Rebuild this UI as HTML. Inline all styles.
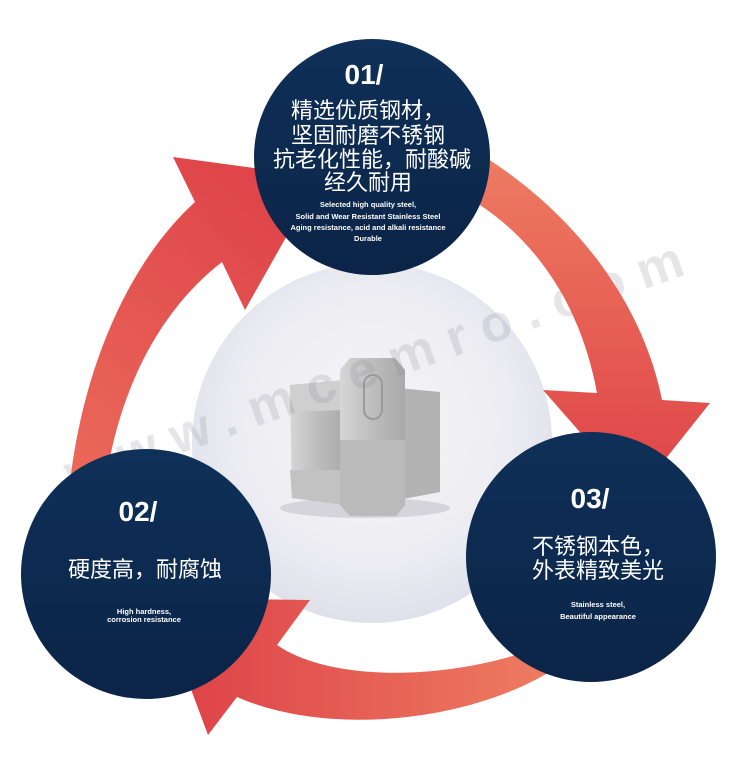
<!DOCTYPE html>
<html><head><meta charset="utf-8"><style>
html,body{margin:0;padding:0;background:#fff;}
svg{display:block;}
text{font-family:"Liberation Sans","Noto Sans CJK SC",sans-serif;fill:#fff;}
</style></head><body>
<svg width="750" height="758" viewBox="0 0 750 758" xmlns="http://www.w3.org/2000/svg">
<defs>
<radialGradient id="cg" cx="0.5" cy="0.45" r="0.55">
<stop offset="0" stop-color="#f6f6f8"/><stop offset="0.7" stop-color="#ececf2"/><stop offset="1" stop-color="#dfe0ea"/></radialGradient>
<linearGradient id="a1" x1="0" y1="1" x2="0.6" y2="0"><stop offset="0" stop-color="#ec6f5c"/><stop offset="1" stop-color="#df454a"/></linearGradient>
<linearGradient id="a2" x1="0" y1="0" x2="0" y2="1"><stop offset="0" stop-color="#ee7d62"/><stop offset="1" stop-color="#de4247"/></linearGradient>
<linearGradient id="a3" x1="1" y1="0" x2="0" y2="0"><stop offset="0" stop-color="#ee7e62"/><stop offset="1" stop-color="#dd3f47"/></linearGradient>
<linearGradient id="nv" x1="0" y1="0" x2="0" y2="1"><stop offset="0" stop-color="#0f3058"/><stop offset="1" stop-color="#0b2447"/></linearGradient>
<linearGradient id="mt" x1="0" y1="0" x2="1" y2="0"><stop offset="0" stop-color="#d6d6d6"/><stop offset="0.5" stop-color="#bdbdbd"/><stop offset="1" stop-color="#a9a9a9"/></linearGradient>
</defs>
<circle cx="372" cy="443" r="180" fill="url(#cg)"/>
<!-- product -->
<ellipse cx="365" cy="508" rx="85" ry="10" fill="#d4d4da"/>
<path d="M290,385 L345,380 L345,505 L292,498 Z" fill="url(#mt)"/>
<path d="M290,385 L345,380 L345,410 L290,412 Z" fill="#cfcfcf"/>
<path d="M290,470 L345,470 L345,505 L292,498 Z" fill="#c2c2c2"/>
<path d="M398,388 L440,392 L440,492 L398,500 Z" fill="#b3b3b3"/>
<path d="M340,370 L350,358 L395,358 L405,370 L405,505 L396,516 L350,516 L340,505 Z" fill="url(#mt)"/>
<path d="M340,440 L405,440 L405,505 L396,516 L350,516 L340,505 Z" fill="#bababa"/>
<rect x="364" y="375" width="18" height="44" rx="9" fill="none" stroke="#9a9a9a" stroke-width="2"/>
<!-- watermark -->
<text x="72" y="492" transform="rotate(-19.5 72 492)" style="fill:rgba(140,140,150,0.22);font-size:52px;font-weight:bold;letter-spacing:15px">www.mcemro.com</text>
<!-- arrows -->
<path d="M66,545 C68,400 120,270 195,202 L173,157 L320,177 L245,310 L222,262 C160,310 105,400 100,545 Z" fill="url(#a1)"/>
<path d="M470,148 C560,200 640,290 662,400 L710,403 L636,496 L543,390 L597,393 C580,300 530,230 458,192 Z" fill="url(#a2)"/>
<path d="M565,662 C480,722 330,738 237,697 L208,735 L157,598 L310,600 L277,645 C330,682 450,682 545,645 Z" fill="url(#a3)"/>
<!-- circles -->
<circle cx="372" cy="157" r="118" fill="url(#nv)"/>
<circle cx="146" cy="574" r="125" fill="url(#nv)"/>
<circle cx="591" cy="557" r="125" fill="url(#nv)"/>
<!-- top text -->
<text x="364" y="84" text-anchor="middle" style="font-size:28px;font-weight:bold">01/</text>
<g text-anchor="middle" style="font-size:22px">
<text x="368" y="118">精选优质钢材，</text>
<text x="368" y="143">坚固耐磨不锈钢</text>
<text x="372" y="167">抗老化性能，耐酸碱</text>
<text x="368" y="190">经久耐用</text>
</g>
<g text-anchor="middle" style="font-size:7.5px;font-weight:bold">
<text x="368" y="207">Selected high quality steel,</text>
<text x="368" y="219">Solid and Wear Resistant Stainless Steel</text>
<text x="368" y="230">Aging resistance, acid and alkali resistance</text>
<text x="368" y="241">Durable</text>
</g>
<!-- left text -->
<text x="138" y="521" text-anchor="middle" style="font-size:28px;font-weight:bold">02/</text>
<text x="145" y="577" text-anchor="middle" style="font-size:22px">硬度高，耐腐蚀</text>
<g text-anchor="middle" style="font-size:7.5px;font-weight:bold">
<text x="144" y="614">High hardness,</text>
<text x="144" y="622">corrosion resistance</text>
</g>
<!-- right text -->
<text x="590" y="508" text-anchor="middle" style="font-size:28px;font-weight:bold">03/</text>
<text x="598" y="554" text-anchor="middle" style="font-size:22px">不锈钢本色，</text>
<text x="598" y="578" text-anchor="middle" style="font-size:22px">外表精致美光</text>
<g text-anchor="middle" style="font-size:7.5px;font-weight:bold">
<text x="598" y="607">Stainless steel,</text>
<text x="598" y="619">Beautiful appearance</text>
</g>
</svg>
</body></html>
